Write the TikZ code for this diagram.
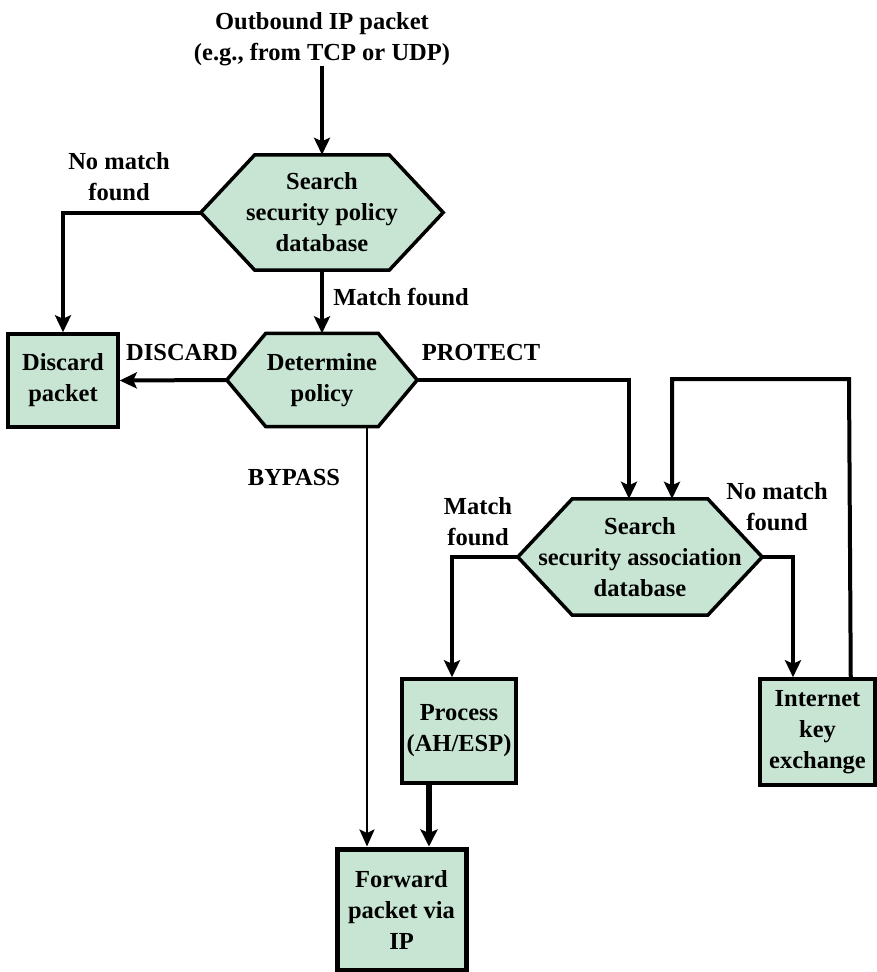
\documentclass[tikz,border=0pt]{standalone}
\usepackage{fontspec}
\setmainfont{Liberation Serif}
\usetikzlibrary{arrows.meta}
\definecolor{boxfill}{RGB}{199,229,210}

% hexagonal decision node: name, x, y, width, height, slant, text
\newcommand{\hexnode}[7]{%
  \path (#2,#3) node[minimum width=#4, minimum height=#5] (#1) {};
  \path[hexedge] (#1.west) -- ([xshift=#6]#1.north west) -- ([xshift=-#6]#1.north east)
    -- (#1.east) -- ([xshift=-#6]#1.south east) -- ([xshift=#6]#1.south west) -- cycle;
  \node at (#1) {#7};
}

\begin{document}
\begin{tikzpicture}[x=1pt,y=-1pt,
  every node/.style={font=\fontsize{24.5}{31}\selectfont\bfseries, align=center, inner sep=0pt},
  box/.style={draw, line width=3.5pt, fill=boxfill},
  hexedge/.style={draw, line width=3.5pt, fill=boxfill, line join=miter},
  conn/.style={line width=4pt, -{Stealth[length=17pt,width=16pt,inset=3.5pt]}},
  thinconn/.style={line width=2.6pt, -{Stealth[length=17pt,width=15pt,inset=3.5pt]}},
  fatconn/.style={line width=5.5pt, -{Stealth[length=17pt,width=17pt,inset=3.5pt]}}
]
\useasboundingbox (0,0) rectangle (876,972);

% entry text
\node (src) at (322,39) {Outbound IP packet\\(e.g., from TCP or UDP)};

% decision hexagons
\hexnode{spd}{322}{212.5}{242}{115}{54}{Search\\security policy\\database}
\hexnode{pol}{322}{380}{190}{93}{39}{Determine\\policy}
\hexnode{sad}{640}{557}{244}{116}{54.5}{Search\\security association\\database}

% action boxes
\node[box, minimum width=110, minimum height=93] (discard) at (63,380.5) {Discard\\packet};
\node[box, minimum width=114, minimum height=104] (proc) at (459,731) {Process\\(AH/ESP)};
\node[box, minimum width=115, minimum height=106] (ike) at (817.5,732) {Internet\\key\\exchange};
\node[box, line width=5pt, minimum width=129, minimum height=121] (fwd) at (401.5,909.5) {Forward\\packet via\\IP};

% branch labels
\node (nomatchA) at (119,177) {No match\\found};
\node (matchA) at (401,297) {Match found};
\node (discardlbl) at (182,353) {DISCARD};
\node (protectlbl) at (481,353) {PROTECT};
\node (bypasslbl) at (294,478) {BYPASS};
\node (matchB) at (478,522) {Match\\found};
\node (nomatchB) at (777,507) {No match\\found};

% connectors
\draw[conn] (src.south) -- (spd.north);
\draw[conn] (spd.west) -| (discard.north);
\draw[conn] (spd.south) -- (pol.north);
\draw[conn] (pol.west) -- (discard.east);
\draw[conn] (pol.east) -| ([xshift=-11]sad.north);
\coordinate (kloop) at (849,379);
\draw[conn] ([xshift=-26]ike.north east) -- (kloop) -| ([xshift=32]sad.north);
\draw[conn] (sad.west) -| ([xshift=-7]proc.north);
\draw[conn] (sad.east) -| ([xshift=-24.5]ike.north);
\coordinate (bypassstart) at ([xshift=45]pol.south);
\draw[thinconn] (bypassstart) -- (bypassstart |- fwd.north);
\coordinate (procout) at ([xshift=-30]proc.south);
\draw[fatconn] (procout) -- (procout |- fwd.north);
\end{tikzpicture}
\end{document}
